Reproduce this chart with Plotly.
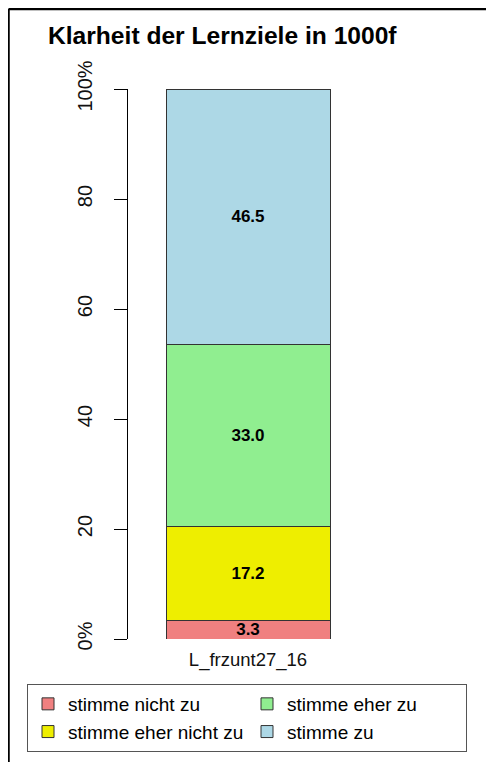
import plotly.graph_objects as go

categories = ["L_frzunt27_16"]
answers = ["stimme nicht zu", "stimme eher nicht zu", "stimme eher zu", "stimme zu"]
shares = [3.3, 17.2, 33.0, 46.5]
colors = ["#F08080", "#EEEE00", "#90EE90", "#ADD8E6"]
legend_rank = [1, 3, 2, 4]

tick_vals = [0, 20, 40, 60, 80, 100]
tick_text = ["0%", "20", "40", "60", "80", "100%"]

# page body has an 8px margin, so the figure is drawn 8px smaller and shifted
W, H = 486, 754
left, right = 120, 470
top, bottom = 81, 631
pw = right - left
ph = bottom - top

bar_center = 240
bar_px = 164
x0 = -(bar_center - left) / pw

fig = go.Figure()
for name, val, col, rank in zip(answers, shares, colors, legend_rank):
    fig.add_trace(go.Bar(
        x=[0],
        y=[val],
        name=name,
        marker=dict(color=col, line=dict(color="#333333", width=1)),
        text=[f"{val:.1f}"],
        textposition="inside",
        insidetextanchor="middle",
        textfont=dict(family="Liberation Sans", size=17, color="black", weight="bold"),
        legendrank=rank,
        width=bar_px / pw,
    ))

fig.update_layout(
    width=W, height=H,
    barmode="stack",
    plot_bgcolor="white", paper_bgcolor="white",
    margin=dict(l=left, r=W - right, t=top, b=H - bottom, autoexpand=False),
    font=dict(family="Liberation Sans", color="#111111"),
    title=dict(
        text="<b>Klarheit der Lernziele in 1000f</b>",
        x=40 / W, xanchor="left", xref="container",
        y=1 - 27 / H, yanchor="middle", yref="container",
        font=dict(size=24.6, color="black"),
    ),
    uniformtext=dict(minsize=17, mode="show"),
    showlegend=True,
    legend=dict(
        orientation="h",
        x=(19 - left) / pw, y=(bottom - 676) / ph,
        xanchor="left", yanchor="top",
        entrywidth=174, entrywidthmode="pixels",
        bordercolor="#555555", borderwidth=1,
        font=dict(size=19, color="black"),
        traceorder="normal",
        itemwidth=30,
    ),
)

fig.update_xaxes(
    range=[x0, x0 + 1],
    tickvals=[0], ticktext=categories,
    showline=False, showgrid=False, zeroline=False,
    ticks="", tickfont=dict(size=18.5, color="#111111"),
    ticklabelstandoff=7,
    automargin=False,
)
fig.update_yaxes(
    range=[0, 100],
    tickvals=tick_vals, ticktext=tick_text,
    tickangle=-90,
    ticks="outside", ticklen=13, tickcolor="black",
    showline=True, linecolor="black", linewidth=1,
    showgrid=False, zeroline=False,
    tickfont=dict(size=20, color="#111111"),
    ticklabelstandoff=14,
    automargin=False,
)

# frame of the original figure (top and left edges)
fx = (0.5 - left) / pw
fy = (bottom - 1) / ph
fig.add_shape(type="line", xref="paper", yref="paper",
              x0=fx, y0=fy, x1=(W - left) / pw, y1=fy,
              line=dict(color="black", width=2.5))
fig.add_shape(type="line", xref="paper", yref="paper",
              x0=fx, y0=fy, x1=fx, y1=(bottom - H) / ph,
              line=dict(color="black", width=2.5))

fig.write_html("out.html")
